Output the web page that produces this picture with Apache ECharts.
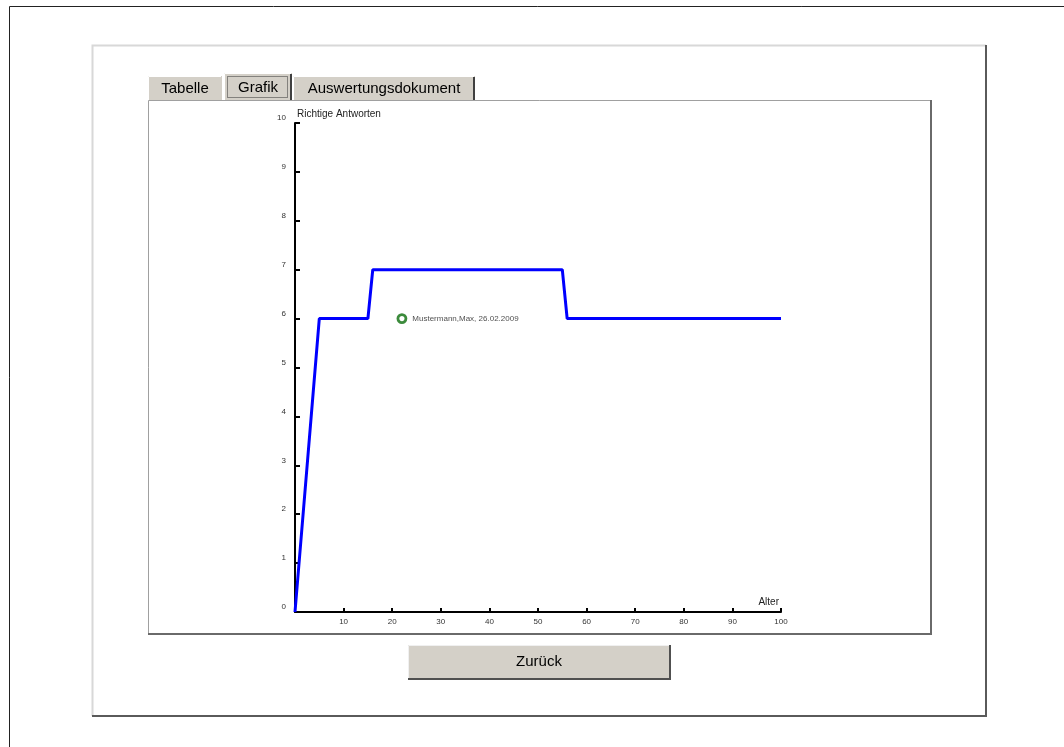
<!DOCTYPE html>
<html><head><meta charset="utf-8">
<script src="https://cdn.jsdelivr.net/npm/echarts@6/dist/echarts.min.js"></script>
<style>html,body{margin:0;padding:0;background:#fff;}#c{width:1064px;height:747px;}</style>
</head><body><div id="c"></div>
<script>
const lineAges = [0, 5, 15, 16, 55, 56, 100];
const lineScores = [0, 6, 6, 7, 7, 6, 6];
const personAge = [22];
const personScore = [6];
const personLabel = ['Mustermann,Max, 26.02.2009'];
const tabLabels = ['Tabelle', 'Grafik', 'Auswertungsdokument'];
const buttonLabel = 'Zurück';
const xName = 'Alter';
const yName = 'Richtige Antworten';

const font = '"Liberation Sans", Arial, sans-serif';
const chart = echarts.init(document.getElementById('c'));

const lineData = lineAges.map((a, i) => [a, lineScores[i]]);
const personData = personAge.map((a, i) => ({ value: [a, personScore[i]], name: personLabel[i] }));

function tab(x, w, y, h, text, selected, darkEdge) {
  const els = [
    { type: 'rect', shape: { x: x, y: y, width: w, height: h }, style: { fill: '#d4d0c8', stroke: null } },
    { type: 'polyline', shape: { points: [[x + 0.5, y + h], [x + 0.5, y + 0.5], [x + w - 1, y + 0.5]] }, style: { stroke: '#ffffff', lineWidth: 1, fill: null } },
    { type: 'text', style: { x: x + w / 2, y: y + h / 2 + 1, text: text, fill: '#000', font: '15px ' + font, align: 'center', verticalAlign: 'middle' } }
  ];
  if (darkEdge) {
    els.push({ type: 'polyline', shape: { points: [[x + w - 1, y + 1], [x + w - 1, y + h]] }, style: { stroke: '#404040', lineWidth: 2, fill: null } });
  }
  if (selected) {
    els.push({ type: 'rect', shape: { x: x + 3.5, y: y + 3.5, width: w - 8, height: h - 6 }, style: { fill: null, stroke: '#333', lineWidth: 1, lineDash: [1, 1] } });
  }
  return els;
}

const graphic = [
  { type: 'polyline', shape: { points: [[9.5, 760], [9.5, 6.5], [1080, 6.5]] }, style: { stroke: '#222', lineWidth: 1, fill: null } },
  { type: 'polyline', shape: { points: [[92.5, 716], [92.5, 45.5], [986, 45.5]] }, style: { stroke: '#d8d8d8', lineWidth: 2, fill: null } },
  { type: 'polyline', shape: { points: [[986, 45], [986, 716], [92, 716]] }, style: { stroke: '#5a5a5a', lineWidth: 2, fill: null } },
  { type: 'rect', shape: { x: 148, y: 100, width: 783, height: 534 }, style: { fill: '#fff', stroke: null } },
  { type: 'polyline', shape: { points: [[148.5, 634], [148.5, 100.5], [931, 100.5]] }, style: { stroke: '#a0a0a0', lineWidth: 1, fill: null } },
  { type: 'polyline', shape: { points: [[931, 100], [931, 634], [148, 634]] }, style: { stroke: '#6a6a6a', lineWidth: 2, fill: null } },
  ...tab(148, 74, 76, 24, tabLabels[0], false, false),
  ...tab(224, 68, 73, 27, tabLabels[1], true, true),
  ...tab(293, 182, 76, 24, tabLabels[2], false, true),
  { type: 'rect', shape: { x: 408, y: 645, width: 262, height: 34 }, style: { fill: '#d4d0c8', stroke: null } },
  { type: 'polyline', shape: { points: [[408.5, 679], [408.5, 645.5], [670, 645.5]] }, style: { stroke: '#f0f0f0', lineWidth: 1, fill: null } },
  { type: 'polyline', shape: { points: [[670, 645], [670, 679], [408, 679]] }, style: { stroke: '#505050', lineWidth: 2, fill: null } },
  { type: 'text', style: { x: 539, y: 662, text: buttonLabel, fill: '#000', font: '15px ' + font, align: 'center', verticalAlign: 'middle' } }
];

chart.setOption({
  animation: false,
  backgroundColor: '#fff',
  graphic: { elements: graphic.map(e => Object.assign({ z: -10, silent: true }, e)) },
  grid: { left: 295, right: 283, top: 123, bottom: 135, show: false },
  xAxis: {
    type: 'value', min: 0, max: 100, interval: 10,
    name: xName, nameLocation: 'end', nameGap: -2,
    nameTextStyle: { fontSize: 10, color: '#222', fontFamily: font, align: 'right', verticalAlign: 'bottom', padding: [0, 0, 5, 0] },
    axisLine: { show: true, lineStyle: { color: '#000', width: 2 } },
    axisTick: { show: true, inside: true, length: 4, lineStyle: { color: '#000', width: 2 } },
    axisLabel: { fontSize: 8, color: '#333', fontFamily: font, margin: 6, formatter: v => v === 0 ? '' : String(v) },
    splitLine: { show: false }
  },
  yAxis: {
    type: 'value', min: 0, max: 10, interval: 1,
    name: yName, nameLocation: 'end', nameGap: 4,
    nameTextStyle: { fontSize: 10, color: '#222', fontFamily: font, align: 'left', verticalAlign: 'bottom', padding: [0, 0, 0, 2] },
    axisLine: { show: true, lineStyle: { color: '#000', width: 2 } },
    axisTick: { show: true, inside: true, length: 5, lineStyle: { color: '#000', width: 2 } },
    axisLabel: { fontSize: 8, color: '#333', fontFamily: font, margin: 9, verticalAlign: 'bottom', padding: [0, 0, 1, 0] },
    splitLine: { show: false }
  },
  series: [
    {
      type: 'line', data: lineData, showSymbol: false, symbol: 'none',
      lineStyle: { color: '#0000ff', width: 3 }, z: 2
    },
    {
      type: 'scatter', data: personData, symbol: 'circle', symbolSize: 8,
      itemStyle: { color: '#fff', borderColor: '#0b6e0b', borderWidth: 2.8 },
      label: { show: true, position: 'right', distance: 5, formatter: p => p.name, fontSize: 8, color: '#222', fontFamily: font },
      z: 3
    }
  ]
});
</script></body></html>
